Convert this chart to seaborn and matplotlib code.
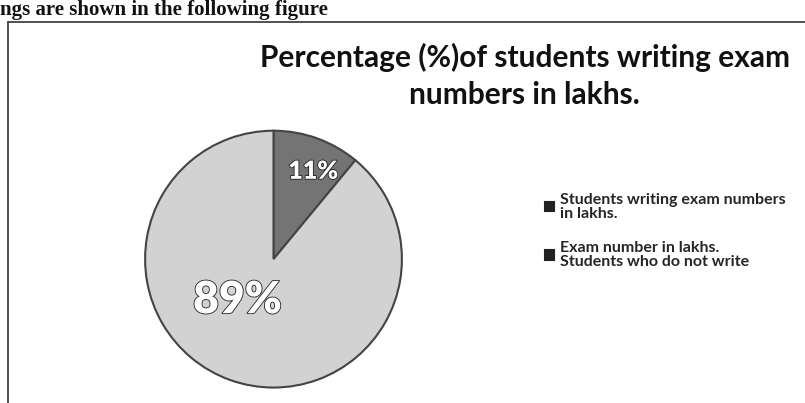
import matplotlib
matplotlib.use("Agg")
import matplotlib.pyplot as plt
import matplotlib.patheffects as pe
import seaborn as sns
from matplotlib.lines import Line2D

sns.set_theme(style="white")
plt.rcParams['font.family'] = ['Lato', 'DejaVu Sans']

header = "ngs are shown in the following figure"
title = "Percentage (%)of students writing exam\nnumbers in lakhs."
categories = ["Students writing exam numbers\nin lakhs.",
              "Exam number in lakhs.\nStudents who do not write"]
values = [11, 89]
colors = ["#747474", "#d2d2d2"]

fig = plt.figure(figsize=(8.05, 4.03), dpi=100)
fig.patch.set_facecolor("white")

# scanned page header fragment and box frame
fig.text(0.0, 0.999, header, ha="left", va="top",
         fontsize=15, family="Liberation Serif", fontweight="bold", color="#111111")
fig.add_artist(Line2D([0.010, 1.0], [0.945, 0.945], color="#333333", lw=1.2))
fig.add_artist(Line2D([0.010, 0.010], [0.0, 0.945], color="#333333", lw=1.2))

ax = fig.add_axes([0.177, 0.032, 0.3255, 0.650])
wedges, texts, autotexts = ax.pie(values, colors=colors, startangle=90, counterclock=False,
                                  autopct="%d%%", radius=1.0,
                                  wedgeprops=dict(edgecolor="#444444", linewidth=1.5))
ax.set_xlim(-1.02, 1.02)
ax.set_ylim(-1.02, 1.02)
ax.set_aspect("equal")

autotexts[0].set_position((0.31, 0.68))
autotexts[0].set_fontsize(18)
autotexts[1].set_position((-0.28, -0.32))
autotexts[1].set_fontsize(32)
for t in autotexts:
    t.set_color("white")
    t.set_fontweight("heavy")
    t.set_path_effects([pe.withStroke(linewidth=1.2, foreground="#222222")])

fig.text(0.652, 0.812, title, ha="center", va="center", fontsize=21.5, fontweight="bold",
         color="#111111", linespacing=1.4)

leg = fig.legend(wedges, categories, loc="upper left", bbox_to_anchor=(0.659, 0.558),
                 frameon=False, handlelength=0.55, handleheight=0.55,
                 handletextpad=0.4, labelspacing=1.3, prop=dict(weight="bold", size=11.5))
for t in leg.get_texts():
    t.set_linespacing(1.0)
for h in leg.legend_handles:
    h.set_facecolor("#222222")
    h.set_edgecolor("#222222")

fig.savefig("out.png", dpi=100, facecolor="white")
